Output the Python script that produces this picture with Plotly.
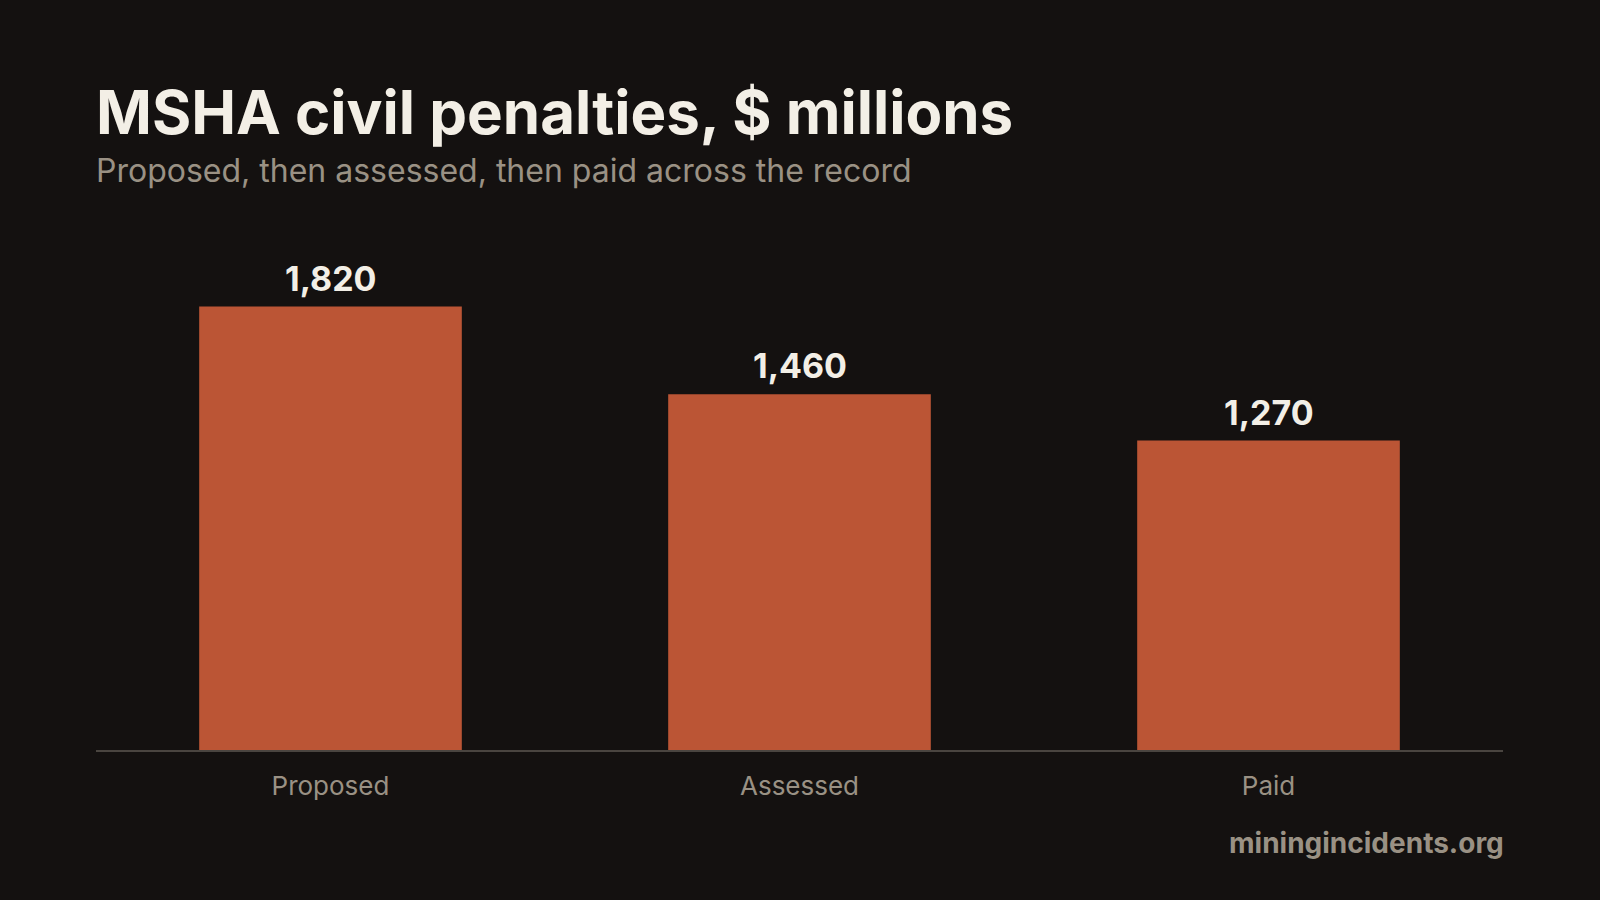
import plotly.graph_objects as go

categories = ["Proposed", "Assessed", "Paid"]
values = [1820, 1460, 1270]
value_labels = ["1,820", "1,460", "1,270"]

BG = "#141110"
BAR = "#bb5535"
TXT = "#f3efe6"
MUTED = "#9a9184"
FONT = "Inter"

fig = go.Figure()
fig.add_trace(go.Bar(x=categories, y=values, marker=dict(color=BAR, line=dict(width=0)),
                     hoverinfo="skip"))

for c, v, t in zip(categories, values, value_labels):
    fig.add_annotation(x=c, y=v, text=t, showarrow=False, yanchor="bottom", yshift=6,
                       font=dict(family=FONT, size=34, color=TXT, weight=700))

fig.add_annotation(xref="paper", yref="paper", x=0, y=1, xanchor="left", yanchor="bottom",
                   text="MSHA civil penalties, $ millions", showarrow=False, yshift=90,
                   xshift=-2, font=dict(family=FONT, size=60, color=TXT, weight=700))
fig.add_annotation(xref="paper", yref="paper", x=0, y=1, xanchor="left", yanchor="bottom",
                   text="Proposed, then assessed, then paid across the record", showarrow=False,
                   yshift=48, xshift=-2, font=dict(family=FONT, size=32, color=MUTED))
fig.add_annotation(xref="paper", yref="paper", x=1, y=0, xanchor="right", yanchor="top",
                   text="miningincidents.org", showarrow=False, yshift=-74, xshift=3,
                   font=dict(family=FONT, size=28, color=MUTED, weight=700))

fig.update_layout(
    width=1600, height=900,
    paper_bgcolor=BG, plot_bgcolor=BG,
    margin=dict(l=96, r=97, t=240, b=150),
    bargap=0.44,
    showlegend=False,
    xaxis=dict(showgrid=False, zeroline=False, showline=True, linecolor="#4a4540", linewidth=2,
               ticks="", tickfont=dict(family=FONT, size=26, color=MUTED), ticklabelstandoff=12),
    yaxis=dict(range=[0, 2093], visible=False, showgrid=False, zeroline=False),
)

fig.write_html("out.html")
